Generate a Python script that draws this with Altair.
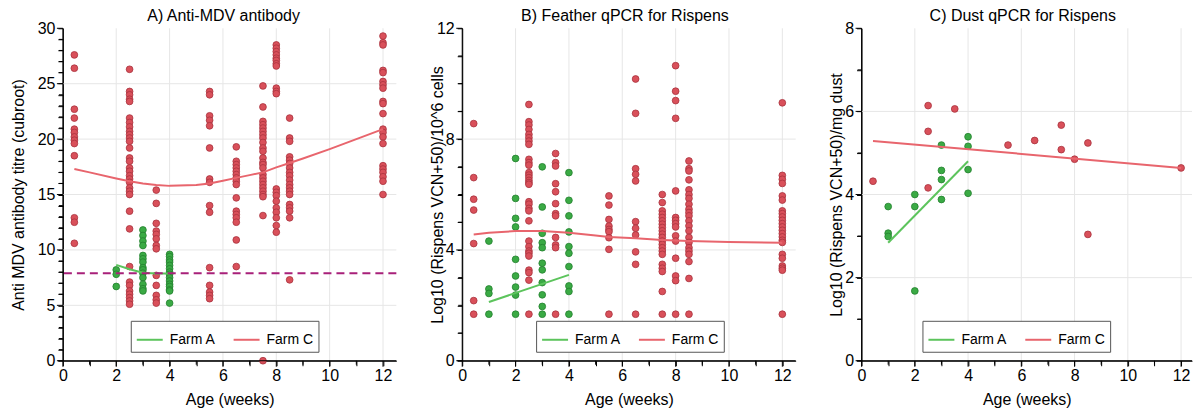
import altair as alt
import pandas as pd

FONT = "Liberation Sans"
FARMS = ["Farm A", "Farm C"]
FILL = {"Farm A": "#3aaa44", "Farm C": "#d9505a"}
STROKE = {"Farm A": "#23802e", "Farm C": "#a8323e"}
LINE_COLORS = ["#5cc45c", "#e8656d"]
THRESH_COLOR = "#a8207a"
GRID_COLOR = "#e6e6e6"
PLOT_H = 333

# x grid / ticks (weeks) shared by all panels
X_GRID = [2, 4, 6, 8, 10, 12]
X_TICKS = list(range(0, 13))

# ---------------- Panel A: Anti-MDV antibody (cubroot titre) ----------------
A_ygrid = [5, 10, 15, 20, 25]
A_farmA = {
    2: [8.2, 7.8, 6.7],
    3: [11.8, 11.3, 10.8, 10.4, 9.5, 9.2, 8.9, 8.4, 8.2, 7.9, 7.5, 6.9, 6.5, 6.3],
    4: [9.6, 9.4, 9.1, 8.9, 8.6, 8.3, 8.0, 7.8, 7.5, 7.2, 6.9, 6.7, 6.4, 6.3, 5.2],
}
A_farmC = {
    0.43: [27.6, 26.4, 22.7, 21.9, 20.9, 20.6, 20.2, 19.9, 19.6, 18.5, 12.9, 12.5, 10.6],
    2.5: [26.3, 24.3, 24.0, 23.6, 23.4, 21.9, 21.5, 21.1, 20.7, 20.4, 20.1, 19.8, 19.2,
          18.3, 18.0, 17.4, 17.1, 16.7, 16.4, 16.1, 15.6, 15.3, 15.0, 13.5, 11.9, 8.5,
          7.1, 6.8, 6.3, 6.0, 5.7, 5.4, 5.1],
    3.5: [15.4, 14.2, 12.4, 11.7, 11.4, 11.0, 10.4, 10.1, 7.7, 6.8, 5.9, 5.5, 5.2],
    5.5: [24.3, 24.0, 22.1, 21.7, 21.2, 19.2, 16.4, 16.1, 14.0, 13.4, 8.4, 6.8, 6.2, 5.9, 5.6],
    6.5: [19.3, 18.0, 17.7, 17.4, 17.1, 16.8, 16.5, 16.2, 15.9, 14.7, 13.5, 13.2, 12.9,
          12.5, 10.9, 8.5],
    7.5: [24.8, 22.9, 21.6, 21.3, 21.0, 20.7, 20.4, 20.1, 19.7, 19.2, 18.9, 18.3, 17.9,
          17.7, 17.4, 16.8, 16.5, 16.2, 15.9, 15.6, 15.3, 15.0, 14.8, 13.1, 0.0],
    8: [28.5, 28.2, 27.9, 27.6, 27.3, 27.1, 26.8, 26.6, 24.6, 24.3, 24.1, 15.5, 15.2,
        14.9, 14.4, 13.8, 13.4, 12.9, 12.2, 11.6],
    8.5: [21.9, 20.1, 19.8, 18.4, 18.1, 17.8, 17.4, 17.0, 16.7, 16.3, 15.9, 15.6, 15.3,
          15.0, 14.1, 13.8, 13.5, 12.9, 7.3],
    12: [29.3, 28.7, 28.5, 26.2, 26.0, 25.2, 24.9, 24.6, 23.4, 23.2, 22.3, 20.9, 20.6,
         20.2, 19.6, 17.6, 17.3, 17.0, 16.6, 16.2, 15.0],
}
A_fitA_x = [2, 2.5, 3, 3.5, 4]
A_fitA_y = [8.65, 8.25, 7.95, 7.88, 7.88]
A_fitC_x = [0.43, 1, 2, 2.5, 3, 3.5, 4, 5, 5.5, 6, 6.5, 7, 7.5, 8, 8.5, 9, 10, 11, 12]
A_fitC_y = [17.3, 17.0, 16.45, 16.2, 16.0, 15.85, 15.78, 15.85, 16.0, 16.25, 16.5,
            16.75, 17.0, 17.45, 17.85, 18.25, 19.1, 20.0, 20.9]
A_threshold = [7.9]

# ---------------- Panel B: Feather qPCR ----------------
B_ygrid = [4, 8]
B_farmA = {
    1: [4.32, 2.59, 2.43, 1.68],
    2: [7.3, 5.86, 5.14, 4.83, 3.66, 3.06, 2.66, 2.37, 1.68],
    3: [7.0, 5.55, 4.6, 4.26, 4.08, 3.52, 3.28, 2.82, 2.38, 1.96, 1.68],
    4: [6.79, 5.79, 5.23, 4.65, 4.12, 3.88, 3.4, 2.7, 2.5, 1.68],
}
B_farmC = {
    0.43: [8.56, 6.61, 5.83, 5.44, 4.23, 2.17, 1.68],
    2.5: [9.25, 8.63, 8.51, 8.35, 8.17, 8.05, 7.93, 7.81, 7.27, 7.15, 7.06, 6.79, 6.7,
          6.61, 6.51, 6.43, 6.37, 5.74, 5.65, 5.5, 5.41, 5.05, 4.32, 4.12, 3.96, 3.88,
          3.78, 3.27, 3.18, 2.91, 1.68],
    3.5: [7.48, 7.15, 7.03, 6.39, 6.1, 5.67, 5.31, 5.23, 4.45, 4.18, 4.08, 1.68],
    5.5: [5.95, 5.62, 5.1, 4.86, 4.74, 4.66, 4.44, 4.02, 1.68],
    6.5: [10.17, 8.93, 6.93, 6.73, 6.49, 5.02, 4.78, 4.54, 3.93, 3.48, 1.68],
    7.5: [6.0, 5.71, 5.41, 5.29, 5.17, 5.05, 4.93, 4.81, 4.69, 4.57, 4.45, 4.32, 4.2,
          4.08, 3.96, 3.84, 3.48, 3.34, 3.22, 2.5, 1.68],
    8: [10.65, 9.73, 9.39, 8.75, 6.13, 5.17, 5.07, 4.95, 4.83, 4.51, 4.32, 3.7, 3.06,
        2.89, 1.68],
    8.5: [7.21, 6.93, 6.85, 6.53, 6.17, 6.0, 5.86, 5.65, 5.47, 5.35, 5.23, 5.05, 4.87,
          4.69, 4.45, 4.27, 4.08, 3.96, 3.84, 3.58, 2.97, 1.68],
    12: [9.31, 6.69, 6.55, 6.4, 5.95, 5.8, 5.41, 5.31, 5.19, 5.07, 4.95, 4.83, 4.71,
         4.59, 4.47, 4.35, 4.27, 3.84, 3.7, 3.42, 3.34, 3.27, 1.68],
}
B_fitA_x = [1, 4]
B_fitA_y = [2.12, 3.1]
B_fitC_x = [0.43, 1, 2, 3, 4, 5, 5.5, 6.5, 7.5, 8.5, 10, 12]
B_fitC_y = [4.56, 4.62, 4.68, 4.68, 4.62, 4.52, 4.47, 4.42, 4.36, 4.32, 4.29, 4.26]

# ---------------- Panel C: Dust qPCR ----------------
C_ygrid = [2, 4, 6]
C_farmA = {
    1: [3.71, 3.07, 2.99],
    2: [4.0, 3.71, 1.68],
    3: [5.19, 4.58, 4.36, 3.88],
    4: [5.39, 5.16, 4.6, 4.03],
}
C_farmC = {
    0.43: [4.32],
    2.5: [6.14, 5.52, 4.16],
    3.5: [6.06],
    5.5: [5.19],
    6.5: [5.3],
    7.5: [5.67, 5.08],
    8: [4.85],
    8.5: [5.24, 3.04],
    12: [4.64],
}
C_fitA_x = [1, 4]
C_fitA_y = [2.84, 4.8]
C_fitC_x = [0.43, 12]
C_fitC_y = [5.29, 4.64]


def points_df(farmA, farmC):
    rows = []
    for farm, d in (("Farm C", farmC), ("Farm A", farmA)):
        for age, vals in d.items():
            for v in vals:
                rows.append({"age": age, "value": v, "farm": farm})
    return pd.DataFrame(rows)


def fit_df(ax, ay, cx, cy):
    rows = [{"age": x, "value": y, "farm": "Farm A"} for x, y in zip(ax, ay)]
    rows += [{"age": x, "value": y, "farm": "Farm C"} for x, y in zip(cx, cy)]
    return pd.DataFrame(rows)


AXIS_STYLE = dict(domain=True, domainColor="black", domainWidth=1, domainOpacity=1,
                  ticks=True, tickColor="black", tickSize=5, tickWidth=1, tickOpacity=1,
                  grid=False, labelFlush=False, labelOverlap=False)


def panel(title, ytitle, pts, fits, ygrid, ymax, ymajor, xmax, width, title_x, legend_x,
          title_dx, threshold=None):
    def xenc():
        return alt.X("age:Q", scale=alt.Scale(domain=[0, xmax], nice=False, zero=False),
                     axis=alt.Axis(
                         values=X_TICKS,
                         labelExpr="datum.value % 2 === 0 ? datum.label : ''",
                         title="Age (weeks)",
                         labelPadding=2, titleY=39, titleBaseline="middle",
                         **AXIS_STYLE,
                     ))

    y_ticks = list(range(0, ymax + 1))

    def yenc():
        return alt.Y("value:Q", scale=alt.Scale(domain=[0, ymax], nice=False, zero=False),
                     axis=alt.Axis(
                         values=y_ticks,
                         labelExpr=f"datum.value % {ymajor} === 0 ? datum.label : ''",
                         title=ytitle,
                         labelPadding=3, titleX=title_x, titleBaseline="middle",
                         **AXIS_STYLE,
                     ))

    layers = []
    vgrid = alt.Chart(pd.DataFrame({"age": X_GRID})).mark_rule(
        color=GRID_COLOR, strokeWidth=1).encode(x=xenc())
    hgrid = alt.Chart(pd.DataFrame({"value": ygrid})).mark_rule(
        color=GRID_COLOR, strokeWidth=1).encode(y=yenc())
    layers += [vgrid, hgrid]

    base_pts = alt.Chart(pts)
    for farm in ("Farm C", "Farm A"):
        lyr = base_pts.transform_filter(alt.datum.farm == farm).mark_circle(
            size=46, opacity=1, strokeWidth=0.8, fill=FILL[farm], stroke=STROKE[farm]
        ).encode(x=xenc(), y=yenc())
        layers.append(lyr)

    line_layer = alt.Chart(fits).mark_line(strokeWidth=2).encode(
        x=xenc(),
        y=yenc(),
        color=alt.Color(
            "farm:N",
            scale=alt.Scale(domain=FARMS, range=LINE_COLORS),
            legend=alt.Legend(
                title=None, orient="none", legendX=legend_x, legendY=293,
                direction="horizontal", symbolType="stroke", symbolSize=676,
                symbolStrokeWidth=2, labelFont=FONT, labelFontSize=14,
                labelOffset=6, columnPadding=14, strokeColor="#555555",
                fillColor="white", padding=5,
            ),
        ),
    )
    layers.append(line_layer)
    if threshold is not None:
        thr = alt.Chart(pd.DataFrame({"value": threshold})).mark_rule(
            color=THRESH_COLOR, strokeWidth=2, strokeDash=[8, 5]
        ).encode(y=yenc())
        layers.append(thr)

    # axis lines and tick marks (major ticks a little longer than minor ones)
    one = pd.DataFrame({"k": [0]})
    ydom = alt.Chart(one).mark_rule(color="black", strokeWidth=1).encode(
        x=alt.value(0), y=alt.value(0), y2=alt.value(PLOT_H))
    xdom = alt.Chart(one).mark_rule(color="black", strokeWidth=1).encode(
        y=alt.value(PLOT_H), x=alt.value(-5), x2=alt.value(width))
    yt = pd.DataFrame({"value": y_ticks})
    yt["major"] = [v % ymajor == 0 for v in y_ticks]
    xt = pd.DataFrame({"age": X_TICKS})
    xt["major"] = [v % 2 == 0 for v in X_TICKS]
    ytick_major = alt.Chart(yt).transform_filter("datum.major").mark_rule(
        color="black", strokeWidth=1).encode(y=yenc(), x=alt.value(-6), x2=alt.value(0))
    ytick_minor = alt.Chart(yt).transform_filter("!datum.major").mark_rule(
        color="black", strokeWidth=1).encode(y=yenc(), x=alt.value(-4), x2=alt.value(0))
    xtick_major = alt.Chart(xt).transform_filter("datum.major").mark_rule(
        color="black", strokeWidth=1).encode(x=xenc(), y=alt.value(PLOT_H), y2=alt.value(PLOT_H + 6))
    xtick_minor = alt.Chart(xt).transform_filter("!datum.major").mark_rule(
        color="black", strokeWidth=1).encode(x=xenc(), y=alt.value(PLOT_H), y2=alt.value(PLOT_H + 4))
    layers += [ydom, xdom, ytick_major, ytick_minor, xtick_major, xtick_minor]

    return alt.layer(*layers).properties(
        width=width, height=PLOT_H,
        title=alt.TitleParams(title, fontSize=16, fontWeight="normal", font=FONT,
                              color="black", frame="group", offset=-4, dx=title_dx),
    )


pA = panel("A) Anti-MDV antibody", "Anti MDV antibody titre (cubroot)",
           points_df(A_farmA, A_farmC), fit_df(A_fitA_x, A_fitA_y, A_fitC_x, A_fitC_y),
           A_ygrid, 30, 5, 12.5, 334, -44, 68, -6, threshold=A_threshold)
pB = panel("B) Feather qPCR for Rispens", "Log10 (Rispens VCN+50)/10^6 cells",
           points_df(B_farmA, B_farmC), fit_df(B_fitA_x, B_fitA_y, B_fitC_x, B_fitC_y),
           B_ygrid, 12, 4, 12.5, 334, -25, 74, -4)
pC = panel("C) Dust qPCR for Rispens", "Log10 (Rispens VCN+50)/mg dust",
           points_df(C_farmA, C_farmC), fit_df(C_fitA_x, C_fitA_y, C_fitC_x, C_fitC_y),
           C_ygrid, 8, 2, 12.41, 331, -25, 61, -4)

chart = alt.hconcat(pA, pB, pC, spacing=32).resolve_scale(
    x="independent", y="independent", color="independent",
).resolve_legend(color="independent").properties(
    padding={"left": 11, "top": 8, "right": 0, "bottom": 0}
).configure_axis(
    labelFont=FONT, labelFontSize=16, labelColor="black",
    titleFont=FONT, titleFontSize=16, titleFontWeight="normal", titleColor="black",
).configure_view(stroke=None)

chart.save("out.html", embed_options={"renderer": "svg", "actions": False})
